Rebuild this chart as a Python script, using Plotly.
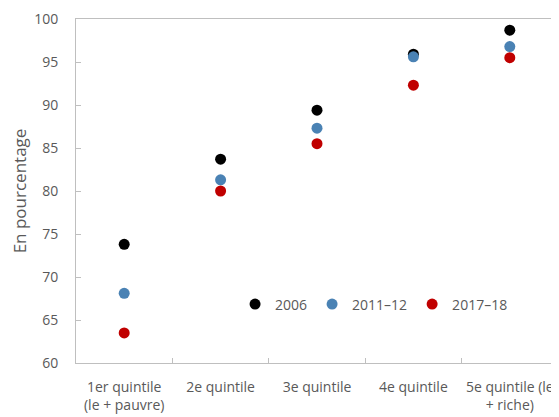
import plotly.graph_objects as go

quintiles = ["1er quintile<br>(le + pauvre)", "2e quintile", "3e quintile",
             "4e quintile", "5e quintile (le<br>+ riche)"]
v2006 = [73.8, 83.7, 89.4, 95.9, 98.7]
v2011 = [68.1, 81.3, 87.3, 95.6, 96.8]
v2017 = [63.5, 80.0, 85.5, 92.3, 95.5]

series = [("2006", v2006, "#000000"),
          ("2011\u201312", v2011, "#4a82b4"),
          ("2017\u201318", v2017, "#c00000")]

fig = go.Figure()
for name, vals, col in series:
    fig.add_trace(go.Scatter(x=quintiles, y=vals, mode="markers", name=name,
                             marker=dict(color=col, size=11)))

# page body has an 8px margin, so the figure is sized to fit the window
fig.update_layout(
    width=551, height=409,
    margin=dict(l=68, r=1, t=11, b=54, autoexpand=False),
    plot_bgcolor="white", paper_bgcolor="white",
    font=dict(family="Open Sans, sans-serif", size=14, color="#595959"),
    showlegend=True,
    legend=dict(orientation="h", x=0.33, y=0.17, xanchor="left", yanchor="middle",
                font=dict(size=14), itemwidth=30, tracegroupgap=0,
                bgcolor="rgba(0,0,0,0)"),
)
fig.update_xaxes(type="category", showline=True, linecolor="#bfbfbf", mirror=True,
                 ticks="inside", tickson="boundaries", ticklen=5, tickcolor="#bfbfbf",
                 showgrid=False, range=[-0.5, 4.5], automargin=False,
                 tickangle=0, ticklabelstandoff=11)
fig.update_yaxes(range=[60, 100], dtick=5, showline=True, linecolor="#bfbfbf", mirror=True,
                 ticks="inside", ticklen=5, tickcolor="#bfbfbf", showgrid=False,
                 zeroline=False, automargin=False, ticklabelstandoff=14,
                 title=dict(text="En pourcentage", standoff=16))

fig.write_html("out.html")
